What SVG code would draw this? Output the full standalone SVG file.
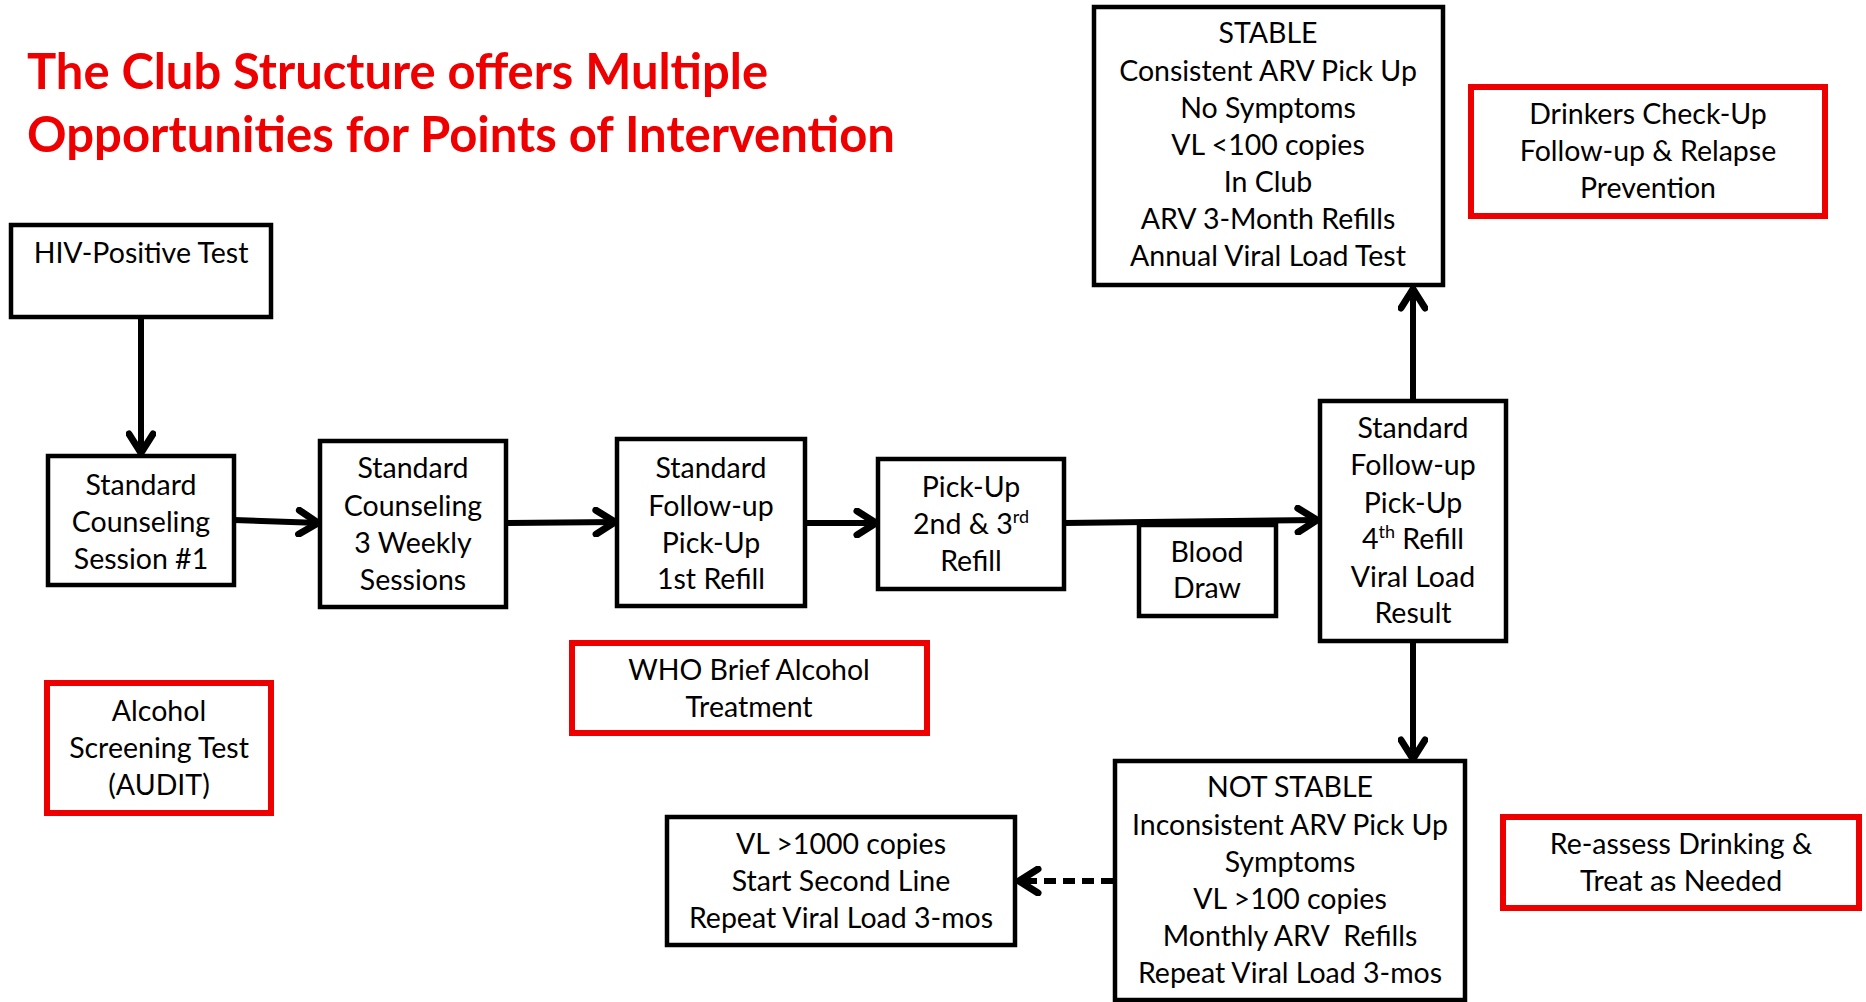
<svg xmlns="http://www.w3.org/2000/svg" width="1866" height="1002" viewBox="0 0 1866 1002">
  <style>
    .box { fill: #ffffff; stroke: #000000; stroke-width: 4.5; }
    .note { fill: #ffffff; stroke: #ee0000; stroke-width: 6; }
    .lbl { font-family: Lato, "Open Sans", "Liberation Sans", sans-serif; font-size: 28.5px; fill: #000000; text-anchor: middle; }
    .title { font-family: Lato, "Open Sans", "Liberation Sans", sans-serif; font-weight: bold; font-size: 50px; fill: #ee0000; }
    .sup { font-size: 18px; }
    .wire { fill: none; stroke: #000000; stroke-width: 6; }
    .dash { fill: none; stroke: #000000; stroke-width: 6; stroke-dasharray: 12 7; }
  </style>
  <defs>
    <!-- open chevron head, tip sits on the path end -->
    <marker id="chev" viewBox="0 0 30 30" markerUnits="userSpaceOnUse" markerWidth="30" markerHeight="30" refX="26" refY="15" orient="auto">
      <path d="M5,3 L24,15 L5,27" fill="none" stroke="#000000" stroke-width="7" stroke-linecap="round" stroke-linejoin="round"/>
    </marker>
  </defs>

  <rect width="1866" height="1002" fill="#ffffff"/>

  <!-- heading -->
  <text class="title" x="27" y="89" textLength="741" lengthAdjust="spacingAndGlyphs">The Club Structure offers Multiple</text>
  <text class="title" x="27" y="152" textLength="868" lengthAdjust="spacingAndGlyphs">Opportunities for Points of Intervention</text>

  <!-- connectors -->
  <g id="connectors">
    <path class="wire" d="M141,317 V455" stroke-width="5" marker-end="url(#chev)"/>
    <path class="wire" d="M234,520 L320,523" stroke-width="7" marker-end="url(#chev)"/>
    <path class="wire" d="M506,523 L617,522" stroke-width="7" marker-end="url(#chev)"/>
    <path class="wire" d="M805,523 L878,523" stroke-width="7" marker-end="url(#chev)"/>
    <path class="wire" d="M1064,523 L1319,520" stroke-width="7" marker-end="url(#chev)"/>
    <path class="wire" d="M1413,401 V287" marker-end="url(#chev)"/>
    <path class="wire" d="M1413,641 V761" marker-end="url(#chev)"/>
    <path class="dash" d="M1113,881 H1024"/>
    <path class="wire" d="M1026,881 H1017" marker-end="url(#chev)"/>
  </g>

  <g id="hiv-test">
    <rect class="box" x="11" y="225" width="260" height="92"/>
    <text class="lbl" x="141" y="263">HIV-Positive Test</text>
  </g>

  <g id="counseling-1">
    <rect class="box" x="48" y="456" width="186" height="129"/>
    <text class="lbl" x="141" y="495">Standard</text>
    <text class="lbl" x="141" y="532">Counseling</text>
    <text class="lbl" x="141" y="569">Session #1</text>
  </g>

  <g id="counseling-weekly">
    <rect class="box" x="320" y="441" width="186" height="166"/>
    <text class="lbl" x="413" y="478">Standard</text>
    <text class="lbl" x="413" y="516">Counseling</text>
    <text class="lbl" x="413" y="553">3 Weekly</text>
    <text class="lbl" x="413" y="590">Sessions</text>
  </g>

  <g id="first-refill">
    <rect class="box" x="617" y="439" width="188" height="167"/>
    <text class="lbl" x="711" y="478">Standard</text>
    <text class="lbl" x="711" y="516">Follow-up</text>
    <text class="lbl" x="711" y="553">Pick-Up</text>
    <text class="lbl" x="711" y="589">1st Refill</text>
  </g>

  <g id="second-third-refill">
    <rect class="box" x="878" y="459" width="186" height="130"/>
    <text class="lbl" x="971" y="497">Pick-Up</text>
    <text class="lbl" x="971" y="534">2nd &amp; 3<tspan class="sup" dy="-11">rd</tspan></text>
    <text class="lbl" x="971" y="571">Refill</text>
  </g>

  <g id="blood-draw">
    <rect class="box" x="1139" y="525" width="137" height="91"/>
    <text class="lbl" x="1207" y="562">Blood</text>
    <text class="lbl" x="1207" y="598">Draw</text>
  </g>

  <g id="fourth-refill">
    <rect class="box" x="1320" y="401" width="186" height="240"/>
    <text class="lbl" x="1413" y="438">Standard</text>
    <text class="lbl" x="1413" y="475">Follow-up</text>
    <text class="lbl" x="1413" y="513">Pick-Up</text>
    <text class="lbl" x="1413" y="549">4<tspan class="sup" dy="-11">th</tspan><tspan dy="11"> Refill</tspan></text>
    <text class="lbl" x="1413" y="587">Viral Load</text>
    <text class="lbl" x="1413" y="623">Result</text>
  </g>

  <g id="stable">
    <rect class="box" x="1094" y="7" width="349" height="278"/>
    <text class="lbl" x="1268" y="43">STABLE</text>
    <text class="lbl" x="1268" y="81">Consistent ARV Pick Up</text>
    <text class="lbl" x="1268" y="118">No Symptoms</text>
    <text class="lbl" x="1268" y="155">VL &lt;100 copies</text>
    <text class="lbl" x="1268" y="192">In Club</text>
    <text class="lbl" x="1268" y="229">ARV 3-Month Refills</text>
    <text class="lbl" x="1268" y="266">Annual Viral Load Test</text>
  </g>

  <g id="drinkers-check-up">
    <rect class="note" x="1471" y="87" width="354" height="129"/>
    <text class="lbl" x="1648" y="124">Drinkers Check-Up</text>
    <text class="lbl" x="1648" y="161">Follow-up &amp; Relapse</text>
    <text class="lbl" x="1648" y="198">Prevention</text>
  </g>

  <g id="not-stable">
    <rect class="box" x="1115" y="761" width="350" height="239"/>
    <text class="lbl" x="1290" y="797">NOT STABLE</text>
    <text class="lbl" x="1290" y="835">Inconsistent ARV Pick Up</text>
    <text class="lbl" x="1290" y="872">Symptoms</text>
    <text class="lbl" x="1290" y="909">VL &gt;100 copies</text>
    <text class="lbl" x="1290" y="946" xml:space="preserve">Monthly ARV  Refills</text>
    <text class="lbl" x="1290" y="983">Repeat Viral Load 3-mos</text>
  </g>

  <g id="reassess">
    <rect class="note" x="1503" y="817" width="356" height="91"/>
    <text class="lbl" x="1681" y="854">Re-assess Drinking &amp;</text>
    <text class="lbl" x="1681" y="891">Treat as Needed</text>
  </g>

  <g id="second-line">
    <rect class="box" x="667" y="817" width="348" height="128"/>
    <text class="lbl" x="841" y="854">VL &gt;1000 copies</text>
    <text class="lbl" x="841" y="891">Start Second Line</text>
    <text class="lbl" x="841" y="928">Repeat Viral Load 3-mos</text>
  </g>

  <g id="audit">
    <rect class="note" x="47" y="683" width="224" height="130"/>
    <text class="lbl" x="159" y="721">Alcohol</text>
    <text class="lbl" x="159" y="758">Screening Test</text>
    <text class="lbl" x="159" y="795">(AUDIT)</text>
  </g>

  <g id="who-brief">
    <rect class="note" x="572" y="643" width="355" height="90"/>
    <text class="lbl" x="749" y="680">WHO Brief Alcohol</text>
    <text class="lbl" x="749" y="717">Treatment</text>
  </g>
</svg>
